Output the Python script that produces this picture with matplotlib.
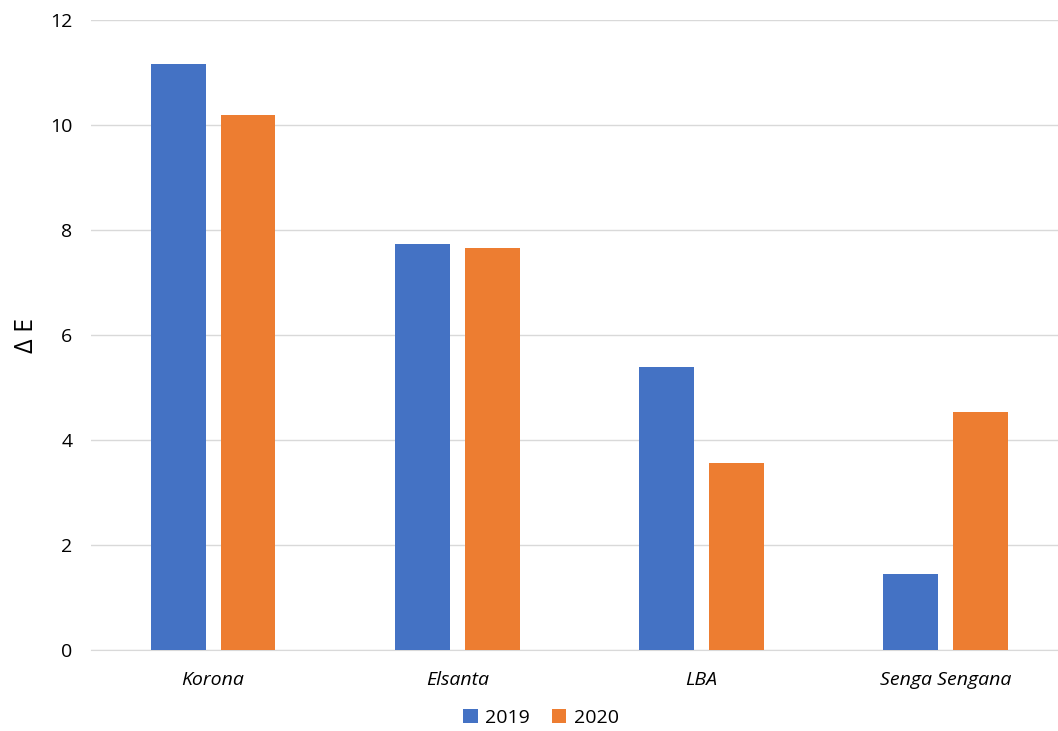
import numpy as np
import matplotlib
matplotlib.use("Agg")
import matplotlib.pyplot as plt

plt.rcParams['font.family'] = ['Open Sans', 'DejaVu Sans']

# Colour difference per strawberry cultivar
cultivars = ["Korona", "Elsanta", "LBA", "Senga Sengana"]
years = ["2019", "2020"]
delta_e_2019 = [11.17, 7.74, 5.39, 1.44]
delta_e_2020 = [10.19, 7.65, 3.56, 4.53]

COLORS = {"2019": "#4472C4", "2020": "#ED7D31"}

W, H = 1058, 731
fig = plt.figure(figsize=(W / 100, H / 100), dpi=100)
ax = fig.add_axes([91 / W, 1 - 650 / H, (W - 91) / W, (650 - 20) / H])

x = np.arange(len(cultivars))
width = 0.225
offset = 0.143

ax.bar(x - offset, delta_e_2019, width, color=COLORS["2019"], label=years[0], zorder=3)
ax.bar(x + offset, delta_e_2020, width, color=COLORS["2020"], label=years[1], zorder=3)

ax.set_xlim(-0.5, 3.46)
ax.set_ylim(0, 12)
ax.set_yticks(range(0, 13, 2))
ax.set_xticks(x)
ax.set_xticklabels(cultivars, fontstyle='italic', fontsize=14, color='#000000')
ax.tick_params(axis='y', labelsize=14, colors='#000000', length=0, pad=13.5)
ax.tick_params(axis='x', length=0, pad=15)

ax.yaxis.grid(True, color='#D9D9D9', linewidth=1, zorder=0)
ax.set_axisbelow(True)
for side in ['top', 'right', 'left']:
    ax.spines[side].set_visible(False)
ax.spines['bottom'].set_color('#D9D9D9')

ax.set_ylabel('Δ E', fontsize=18)
ax.yaxis.set_label_coords(-0.054, 0.5)

fig.legend(loc='center', bbox_to_anchor=(541 / W, 1 - 718 / H), ncol=2, frameon=False,
           fontsize=14, handlelength=0.75, handleheight=0.75, handletextpad=0.4,
           columnspacing=1.1)

plt.savefig('out.png', dpi=100)
plt.close()
